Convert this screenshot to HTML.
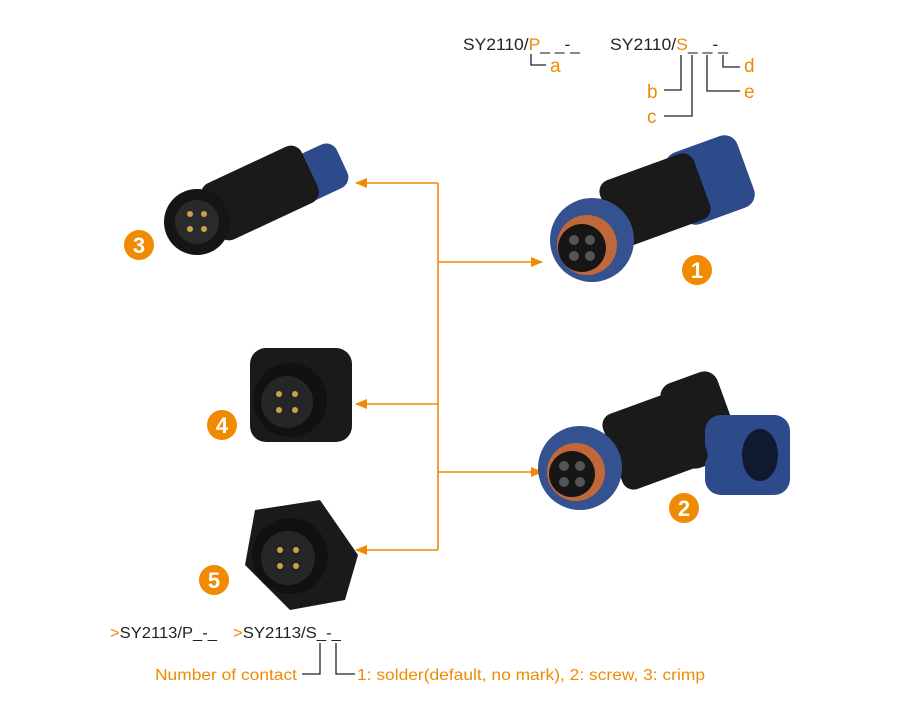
<!DOCTYPE html>
<html><head><meta charset="utf-8"><style>
html,body{margin:0;padding:0;background:#fff;width:910px;height:712px;overflow:hidden}
svg{display:block}
text{font-family:"Liberation Sans",sans-serif}
</style></head><body>
<svg width="910" height="712" viewBox="0 0 910 712" xmlns="http://www.w3.org/2000/svg">
<defs>
<marker id="ar" markerWidth="12" markerHeight="10" refX="11" refY="5" orient="auto" markerUnits="userSpaceOnUse">
<path d="M0,0 L12,5 L0,10 z" fill="#f08a00"/></marker>
</defs>
<!-- top codes -->
<g font-size="17" fill="#222">
<text x="463" y="50" textLength="117" lengthAdjust="spacingAndGlyphs">SY2110/<tspan fill="#f08a00">P</tspan>_ _-_</text>
<text x="610" y="50" textLength="118" lengthAdjust="spacingAndGlyphs">SY2110/<tspan fill="#f08a00">S</tspan>_ _-_</text>
</g>
<g stroke="#222" stroke-width="1.3" fill="none">
<path d="M531,54 V65 H546"/>
<path d="M681,55 V90 H664"/>
<path d="M692,55 V116 H664"/>
<path d="M707,55 V91 H740"/>
<path d="M723,55 V67 H740"/>
</g>
<g font-size="19" fill="#f08a00">
<text x="550" y="72">a</text>
<text x="647" y="98">b</text>
<text x="647" y="123">c</text>
<text x="744" y="72">d</text>
<text x="744" y="98">e</text>
</g>
<!-- orange connectors -->
<g stroke="#f08a00" stroke-width="1.6" fill="none">
<path d="M438,183 V550"/>
<path d="M438,183 H356" marker-end="url(#ar)"/>
<path d="M438,262 H542" marker-end="url(#ar)"/>
<path d="M438,404 H356" marker-end="url(#ar)"/>
<path d="M438,472 H542" marker-end="url(#ar)"/>
<path d="M438,550 H356" marker-end="url(#ar)"/>
</g>
<!-- product 3 -->
<g>
<rect x="285" y="150" width="60" height="48" rx="12" fill="#2d4a8a" transform="rotate(-25 315 174)"/>
<rect x="205" y="162" width="110" height="62" rx="12" fill="#1a1a1a" transform="rotate(-25 260 193)"/>
<circle cx="197" cy="222" r="33" fill="#151515"/>
<circle cx="197" cy="222" r="22" fill="#2a2a2a"/>
<circle cx="190" cy="214" r="3" fill="#c9a24a"/><circle cx="204" cy="214" r="3" fill="#c9a24a"/>
<circle cx="190" cy="229" r="3" fill="#c9a24a"/><circle cx="204" cy="229" r="3" fill="#c9a24a"/>
</g>
<!-- product 1 -->
<g>
<rect x="672" y="142" width="76" height="76" rx="14" fill="#2d4a8a" transform="rotate(-20 710 180)"/>
<rect x="605" y="165" width="100" height="70" rx="12" fill="#1a1a1a" transform="rotate(-20 655 200)"/>
<circle cx="592" cy="240" r="42" fill="#34528f"/>
<circle cx="587" cy="245" r="30" fill="#c0683a"/>
<circle cx="582" cy="248" r="24" fill="#161616"/>
<circle cx="574" cy="240" r="5" fill="#555"/><circle cx="590" cy="240" r="5" fill="#555"/>
<circle cx="574" cy="256" r="5" fill="#555"/><circle cx="590" cy="256" r="5" fill="#555"/>
</g>
<!-- product 4 -->
<g>
<rect x="250" y="348" width="102" height="94" rx="16" fill="#1a1a1a"/>
<circle cx="290" cy="400" r="37" fill="#111"/>
<circle cx="287" cy="402" r="26" fill="#262626"/>
<circle cx="279" cy="394" r="3" fill="#c9a24a"/><circle cx="295" cy="394" r="3" fill="#c9a24a"/>
<circle cx="279" cy="410" r="3" fill="#c9a24a"/><circle cx="295" cy="410" r="3" fill="#c9a24a"/>
</g>
<!-- product 2 -->
<g>
<rect x="670" y="375" width="60" height="90" rx="14" fill="#1a1a1a" transform="rotate(-20 700 420)"/>
<rect x="705" y="415" width="85" height="80" rx="16" fill="#2d4a8a"/>
<ellipse cx="760" cy="455" rx="18" ry="26" fill="#0f1a30"/>
<rect x="610" y="400" width="90" height="80" rx="12" fill="#1a1a1a" transform="rotate(-20 655 440)"/>
<circle cx="580" cy="468" r="42" fill="#34528f"/>
<circle cx="576" cy="472" r="29" fill="#c0683a"/>
<circle cx="572" cy="474" r="23" fill="#161616"/>
<circle cx="564" cy="466" r="5" fill="#555"/><circle cx="580" cy="466" r="5" fill="#555"/>
<circle cx="564" cy="482" r="5" fill="#555"/><circle cx="580" cy="482" r="5" fill="#555"/>
</g>
<!-- product 5 -->
<g>
<path d="M255,510 L320,500 L358,555 L345,600 L290,610 L245,565 Z" fill="#1a1a1a"/>
<circle cx="290" cy="556" r="38" fill="#111"/>
<circle cx="288" cy="558" r="27" fill="#262626"/>
<circle cx="280" cy="550" r="3" fill="#c9a24a"/><circle cx="296" cy="550" r="3" fill="#c9a24a"/>
<circle cx="280" cy="566" r="3" fill="#c9a24a"/><circle cx="296" cy="566" r="3" fill="#c9a24a"/>
</g>
<!-- numbered badges -->
<g font-family="Liberation Serif,serif" font-weight="bold" font-size="22" fill="#fff" text-anchor="middle">
<circle cx="139" cy="245" r="15" fill="#f08a00"/><text x="139" y="253">3</text>
<circle cx="697" cy="270" r="15" fill="#f08a00"/><text x="697" y="278">1</text>
<circle cx="222" cy="425" r="15" fill="#f08a00"/><text x="222" y="433">4</text>
<circle cx="684" cy="508" r="15" fill="#f08a00"/><text x="684" y="516">2</text>
<circle cx="214" cy="580" r="15" fill="#f08a00"/><text x="214" y="588">5</text>
</g>
<!-- bottom codes -->
<g font-size="16" fill="#222">
<text x="110" y="638" textLength="107" lengthAdjust="spacingAndGlyphs"><tspan fill="#f08a00">&gt;</tspan>SY2113/P_-_</text>
<text x="233" y="638" textLength="108" lengthAdjust="spacingAndGlyphs"><tspan fill="#f08a00">&gt;</tspan>SY2113/S_-_</text>
</g>
<g stroke="#222" stroke-width="1.3" fill="none">
<path d="M320,643 V674 H302"/>
<path d="M336,643 V674 H355"/>
</g>
<g font-size="16" fill="#f08a00">
<text x="155" y="680" textLength="142" lengthAdjust="spacingAndGlyphs">Number of contact</text>
<text x="357" y="680" textLength="348" lengthAdjust="spacingAndGlyphs">1: solder(default, no mark), 2: screw, 3: crimp</text>
</g>
</svg>
</body></html>
